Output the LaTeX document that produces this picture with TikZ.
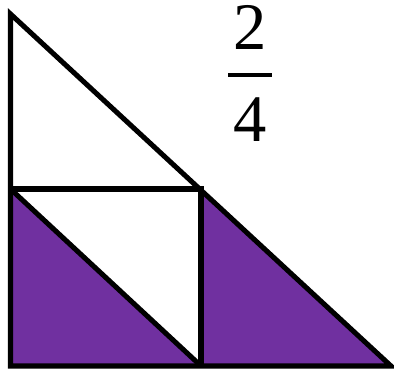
\documentclass[tikz,border=0pt]{standalone}
\usepackage{fontspec}
\usepackage{tikz}
\usepackage{xcolor}
\setmainfont{Liberation Serif}
\definecolor{c1}{HTML}{7030A0}

\begin{document}
\begin{tikzpicture}[
  x=0.03cm, y=-0.03cm,
  edge/.style={draw, line width=4.3pt, line join=miter},
  part/.style={fill=c1},
  digit/.style={inner sep=0pt, font=\fontsize{56.8pt}{60pt}\selectfont}
]
  \useasboundingbox (0,0) rectangle (394,370);
  % Corners
  \coordinate (top)   at (10.5,14);
  \coordinate (bl)    at (10.5,366);
  \coordinate (br)    at (391,366);
  \coordinate (ml)    at (10.5,189);
  \coordinate (mm)    at (201,189);
  \coordinate (mb)    at (201,366);
  % Shaded parts
  \path[part] (ml) -- (bl) -- (mb) -- cycle;
  \path[part] (mm) -- (mb) -- (br) -- cycle;
  % Outlines
  \draw[edge] (top) -- (bl) -- (br) -- cycle;
  \draw[edge] (ml) -- (mm) -- (mb);
  \draw[edge] (ml) -- (mb);
  % Fraction
  \node[digit] (num) at (250,27.5) {2};
  \node[digit] (den) at (250,120)  {4};
  \draw[line width=2.8pt] (228,75) -- (272,75);
\end{tikzpicture}
\end{document}
